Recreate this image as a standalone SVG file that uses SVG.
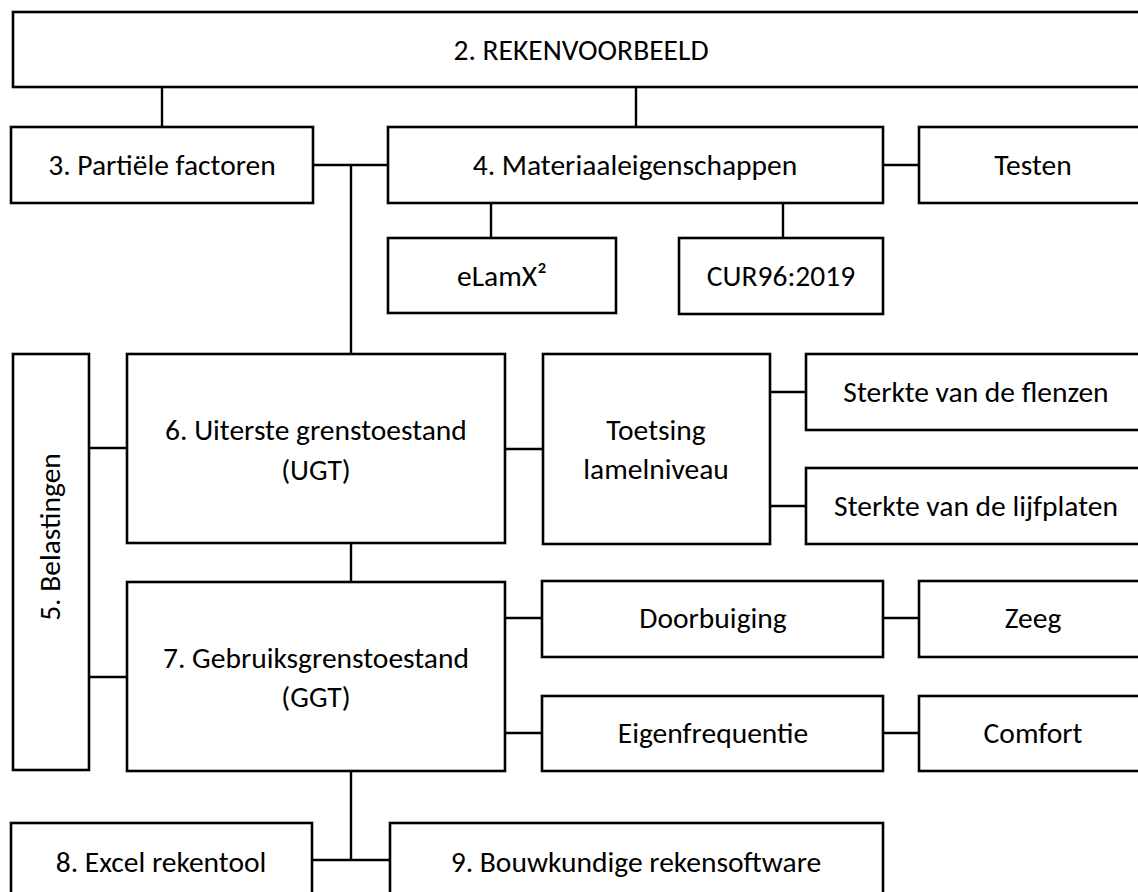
<svg xmlns="http://www.w3.org/2000/svg" width="1138" height="892" viewBox="0 0 1138 892">
<style>
rect{fill:#fff;stroke:#000;stroke-width:2.6}
.c line{stroke:#000;stroke-width:2.4}
text{font-family:Carlito,Lato,"Liberation Sans",sans-serif;font-size:29.5px;fill:#000;text-anchor:middle;dominant-baseline:central}
</style>
<rect x="0" y="0" width="1138" height="892" style="stroke:none"/>
<g class="c" id="connectors">
<line x1="162" y1="87" x2="162" y2="127"/>
<line x1="636" y1="87" x2="636" y2="127"/>
<line x1="313" y1="165" x2="388" y2="165"/>
<line x1="351" y1="165" x2="351" y2="354"/>
<line x1="883" y1="165" x2="919" y2="165"/>
<line x1="491" y1="203" x2="491" y2="238"/>
<line x1="783" y1="203" x2="783" y2="238"/>
<line x1="89" y1="448" x2="127" y2="448"/>
<line x1="89" y1="677" x2="127" y2="677"/>
<line x1="505" y1="449" x2="543" y2="449"/>
<line x1="770" y1="392" x2="806" y2="392"/>
<line x1="770" y1="506" x2="806" y2="506"/>
<line x1="351" y1="543" x2="351" y2="582"/>
<line x1="505" y1="618" x2="542" y2="618"/>
<line x1="505" y1="733" x2="542" y2="733"/>
<line x1="883" y1="618" x2="919" y2="618"/>
<line x1="883" y1="733" x2="919" y2="733"/>
<line x1="351" y1="771" x2="351" y2="860"/>
<line x1="312" y1="860" x2="390" y2="860"/>
</g>
<g id="n2"><rect x="13" y="12" width="1140" height="75"/><text x="581" y="50">2. REKENVOORBEELD</text></g>
<g id="n3"><rect x="11" y="127" width="302" height="76"/><text x="162" y="165">3. Partiële factoren</text></g>
<g id="n4"><rect x="388" y="127" width="495" height="76"/><text x="635" y="165">4. Materiaaleigenschappen</text></g>
<g id="testen"><rect x="919" y="127" width="230" height="76"/><text x="1033" y="165">Testen</text></g>
<g id="elamx"><rect x="388" y="238" width="228" height="75"/><text x="502" y="276">eLamX²</text></g>
<g id="cur"><rect x="679" y="238" width="204" height="76"/><text x="781" y="276">CUR96:2019</text></g>
<g id="n5"><rect x="13" y="354" width="76" height="416"/><text transform="translate(50 537) rotate(-90)">5. Belastingen</text></g>
<g id="n6"><rect x="127" y="354" width="378" height="189"/><text x="316" y="430">6. Uiterste grenstoestand</text><text x="316" y="470">(UGT)</text></g>
<g id="toetsing"><rect x="543" y="354" width="227" height="190"/><text x="656" y="430">Toetsing</text><text x="656" y="469">lamelniveau</text></g>
<g id="flenzen"><rect x="806" y="354" width="345" height="76"/><text x="976" y="392">Sterkte van de flenzen</text></g>
<g id="lijfplaten"><rect x="806" y="468" width="345" height="76"/><text x="976" y="506">Sterkte van de lijfplaten</text></g>
<g id="n7"><rect x="127" y="582" width="378" height="189"/><text x="316" y="658">7. Gebruiksgrenstoestand</text><text x="316" y="697">(GGT)</text></g>
<g id="doorbuiging"><rect x="542" y="581" width="341" height="76"/><text x="713" y="618">Doorbuiging</text></g>
<g id="zeeg"><rect x="919" y="581" width="230" height="76"/><text x="1033" y="618">Zeeg</text></g>
<g id="eigenfrequentie"><rect x="542" y="696" width="341" height="75"/><text x="713" y="733">Eigenfrequentie</text></g>
<g id="comfort"><rect x="919" y="696" width="230" height="75"/><text x="1033" y="733">Comfort</text></g>
<g id="n8"><rect x="11" y="823" width="301" height="80"/><text x="161" y="862">8. Excel rekentool</text></g>
<g id="n9"><rect x="390" y="823" width="493" height="80"/><text x="636" y="862">9. Bouwkundige rekensoftware</text></g>
</svg>
